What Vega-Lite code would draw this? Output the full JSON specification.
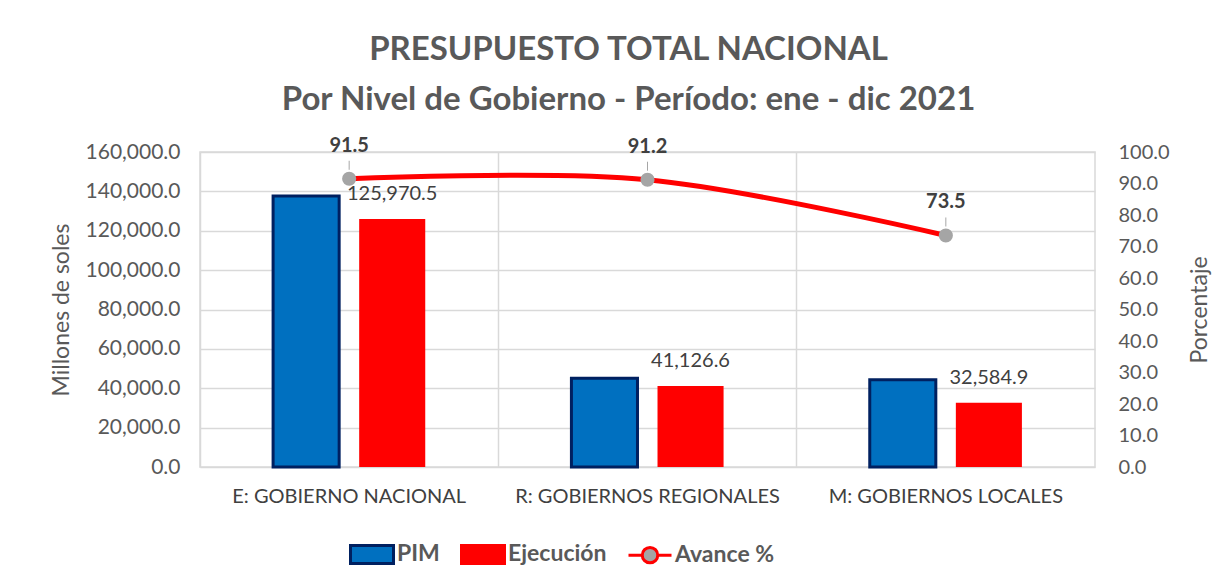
{
  "$schema": "https://vega.github.io/schema/vega-lite/v6.json",
  "autosize": {"type": "none"},
  "width": 895,
  "height": 315,
  "padding": {"left": 200, "top": 152, "right": 134, "bottom": 120},
  "background": "white",
  "title": {
    "text": ["PRESUPUESTO TOTAL  NACIONAL", "Por Nivel de Gobierno - Período: ene - dic 2021"],
    "font": "Lato",
    "fontSize": 33,
    "fontWeight": "bold",
    "color": "#595959",
    "lineHeight": 50,
    "anchor": "middle",
    "frame": "group",
    "dx": -19,
    "offset": 19
  },
  "data": {
    "values": [
      {"nivel": "E: GOBIERNO NACIONAL", "serie": "PIM", "monto": 137673.0, "avance": 91.5},
      {"nivel": "E: GOBIERNO NACIONAL", "serie": "Ejecución", "monto": 125970.5, "avance": 91.5},
      {"nivel": "R: GOBIERNOS REGIONALES", "serie": "PIM", "monto": 45095.0, "avance": 91.2},
      {"nivel": "R: GOBIERNOS REGIONALES", "serie": "Ejecución", "monto": 41126.6, "avance": 91.2},
      {"nivel": "M: GOBIERNOS LOCALES", "serie": "PIM", "monto": 44333.0, "avance": 73.5},
      {"nivel": "M: GOBIERNOS LOCALES", "serie": "Ejecución", "monto": 32584.9, "avance": 73.5}
    ]
  },
  "encoding": {
    "x": {
      "field": "nivel",
      "type": "nominal",
      "sort": ["E: GOBIERNO NACIONAL", "R: GOBIERNOS REGIONALES", "M: GOBIERNOS LOCALES"],
      "scale": {"paddingInner": 0, "paddingOuter": 0},
      "axis": {
        "title": null,
        "labelAngle": 0,
        "labelFont": "Lato",
        "labelFontSize": 20,
        "labelColor": "#404040",
        "labelPadding": 19,
        "labelLimit": 400,
        "ticks": false,
        "domain": false,
        "grid": true,
        "gridColor": "#D9D9D9",
        "gridWidth": 1.5,
        "bandPosition": 0
      }
    }
  },
  "layer": [
    {
      "encoding": {
        "y": {
          "field": "monto",
          "type": "quantitative",
          "scale": {"domain": [0, 160000], "nice": false},
          "axis": {
            "title": "Millones de soles",
            "values": [0, 20000, 40000, 60000, 80000, 100000, 120000, 140000, 160000],
            "tickCount": 9,
            "format": ",.1f",
            "labelFont": "Lato",
            "labelFontSize": 21,
            "labelColor": "#595959",
            "labelPadding": 20,
            "labelOverlap": false,
            "ticks": false,
            "domain": false,
            "grid": true,
            "gridColor": "#D9D9D9",
            "gridWidth": 1.5,
            "titleFont": "Lato",
            "titleFontSize": 23,
            "titleFontWeight": "normal",
            "titleColor": "#595959",
            "titlePadding": 12
          }
        },
        "xOffset": {
          "field": "serie",
          "type": "nominal",
          "sort": ["PIM", "Ejecución"],
          "scale": {"domain": ["PIM", "Ejecución"], "paddingInner": 0.2326, "paddingOuter": 0.849}
        }
      },
      "layer": [
        {
          "mark": {"type": "bar"},
          "encoding": {
            "color": {
              "field": "serie",
              "type": "nominal",
              "scale": {"domain": ["PIM", "Ejecución"], "range": ["#0070C0", "#FF0000"]},
              "legend": null
            },
            "stroke": {
              "condition": {"test": "datum.serie === 'PIM'", "value": "#002060"},
              "value": null
            },
            "strokeWidth": {
              "condition": {"test": "datum.serie === 'PIM'", "value": 3},
              "value": 0
            }
          }
        },
        {
          "transform": [{"filter": "datum.serie === 'Ejecución'"}],
          "mark": {"type": "text", "baseline": "alphabetic", "dy": -19, "font": "Lato", "fontSize": 20, "color": "#404040"},
          "encoding": {
            "text": {"field": "monto", "type": "quantitative", "format": ",.1f"}
          }
        },
        {
          "transform": [{"filter": "datum.serie === 'ninguna'"}],
          "mark": {"type": "point", "filled": true, "opacity": 1},
          "encoding": {
            "fill": {
              "field": "serie",
              "type": "nominal",
              "scale": {"domain": ["PIM", "Ejecución", "Avance %"], "range": ["#0070C0", "#FF0000", "#A5A5A5"]},
              "legend": {
                "title": null,
                "orient": "none",
                "legendX": 149,
                "legendY": 379,
                "direction": "horizontal",
                "labelFont": "Lato",
                "labelFontSize": 23,
                "labelFontWeight": "bold",
                "labelColor": "#595959",
                "labelOffset": 2,
                "columnPadding": 15,
                "symbolSize": 1849,
                "symbolStrokeWidth": 3,
                "symbolOpacity": 1
              }
            },
            "stroke": {
              "field": "serie",
              "type": "nominal",
              "scale": {"domain": ["PIM", "Ejecución", "Avance %"], "range": ["#002060", "#FF0000", "#FF0000"]},
              "legend": {
                "title": null,
                "orient": "none",
                "legendX": 149,
                "legendY": 379,
                "direction": "horizontal",
                "labelFont": "Lato",
                "labelFontSize": 23,
                "labelFontWeight": "bold",
                "labelColor": "#595959",
                "labelOffset": 2,
                "columnPadding": 15,
                "symbolSize": 1849,
                "symbolStrokeWidth": 3,
                "symbolOpacity": 1
              }
            },
            "shape": {
              "field": "serie",
              "type": "nominal",
              "scale": {
                "domain": ["PIM", "Ejecución", "Avance %"],
                "range": [
                  "M-1,-0.42L1,-0.42L1,0.42L-1,0.42Z",
                  "M-1,-0.42L1,-0.42L1,0.42L-1,0.42Z",
                  "M-1,0L-0.36,0M0.36,0L1,0M-0.36,0A0.36,0.36 0 1,0 0.36,0A0.36,0.36 0 1,0 -0.36,0Z"
                ]
              },
              "legend": {
                "title": null,
                "orient": "none",
                "legendX": 149,
                "legendY": 379,
                "direction": "horizontal",
                "labelFont": "Lato",
                "labelFontSize": 23,
                "labelFontWeight": "bold",
                "labelColor": "#595959",
                "labelOffset": 2,
                "columnPadding": 15,
                "symbolSize": 1849,
                "symbolStrokeWidth": 3,
                "symbolOpacity": 1
              }
            }
          }
        }
      ]
    },
    {
      "transform": [{"filter": "datum.serie === 'PIM'"}],
      "encoding": {
        "y": {
          "field": "avance",
          "type": "quantitative",
          "scale": {"domain": [0, 100], "nice": false},
          "axis": {
            "orient": "right",
            "title": "Porcentaje",
            "values": [0, 10, 20, 30, 40, 50, 60, 70, 80, 90, 100],
            "tickCount": 11,
            "format": ".1f",
            "labelFont": "Lato",
            "labelFontSize": 20,
            "labelColor": "#595959",
            "labelPadding": 23,
            "labelOverlap": false,
            "ticks": false,
            "domain": false,
            "grid": false,
            "titleFont": "Lato",
            "titleFontSize": 23,
            "titleFontWeight": "normal",
            "titleColor": "#595959",
            "titleAngle": 270,
            "titlePadding": 42
          }
        }
      },
      "layer": [
        {
          "mark": {"type": "line", "interpolate": "catmull-rom", "strokeWidth": 5, "color": "#FF0000"}
        },
        {
          "mark": {"type": "rule", "color": "#A6A6A6", "strokeWidth": 1, "yOffset": -9, "y2Offset": -18},
          "encoding": {
            "y2": {"field": "avance"}
          }
        },
        {
          "mark": {"type": "point", "filled": true, "size": 200, "color": "#A5A5A5", "opacity": 1}
        },
        {
          "mark": {"type": "text", "baseline": "alphabetic", "dy": -27, "font": "Lato", "fontSize": 20, "fontWeight": "bold", "color": "#404040"},
          "encoding": {
            "text": {"field": "avance", "type": "quantitative", "format": ".1f"}
          }
        }
      ]
    }
  ],
  "resolve": {"scale": {"y": "independent"}},
  "config": {
    "view": {"stroke": "#D9D9D9", "strokeWidth": 1.5}
  }
}
